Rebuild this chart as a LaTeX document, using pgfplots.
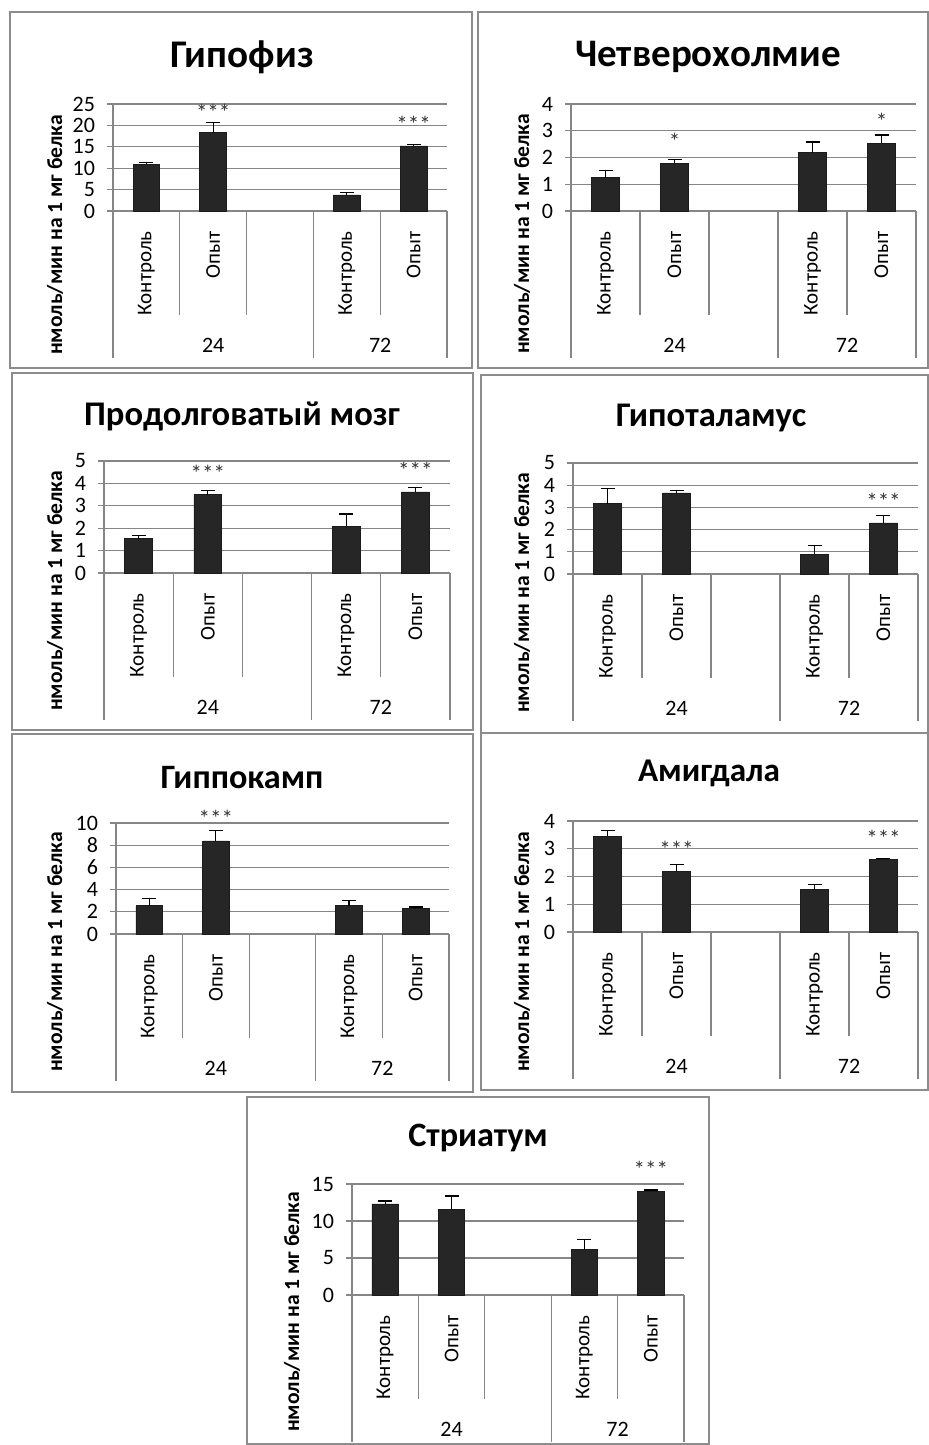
\documentclass[border=0pt]{standalone}
\usepackage{fontspec}
\setmainfont{Carlito}
\usepackage{pgfplots}
\pgfplotsset{compat=1.18}
\definecolor{gc}{RGB}{134,134,134}
\definecolor{fc}{RGB}{140,140,140}
\definecolor{bc}{RGB}{38,38,38}
\pgfplotsset{
  panel/.style={
    scale only axis, anchor=south west, clip=false,
    xmin=0, xmax=5, ymin=0,
    axis lines*=left,
    axis line style={gc, line width=0.6pt},
    ymajorgrids, grid style={gc, line width=0.6pt},
    xtick align=inside, ytick align=outside, major tick length=3pt,
    ytick style={gc, line width=0.6pt},
    xtick={0.5,1.5,3.5,4.5}, xticklabels={Контроль,Опыт,Контроль,Опыт},
    xtick style={draw=none},
    xticklabel shift=10pt,
    x tick label style={rotate=90, anchor=east, inner sep=0pt, font=\fontsize{10.5}{12}\selectfont},
    y tick label style={font=\fontsize{11}{12}\selectfont},
    yticklabel shift=2.5pt,
    /pgf/number format/assume math mode=true,
  },
  bars/.style={ybar, bar width=0.4, fill=bc, draw=bc!70!black, line width=0.4pt,
    error bars/.cd, y dir=plus, y explicit,
    error bar style={black, line width=0.6pt},
    error mark options={rotate=90, black, line width=0.6pt, mark size=3.5pt}},
  stars/.style={draw=none, nodes near coords, point meta=explicit symbolic,
    every node near coord/.append style={anchor=center, inner sep=0pt, yshift=-2.5pt, text=black!80, font=\fontsize{11.5}{10}\selectfont}},
}
\newcommand\seps{%
  \pgfplotsinvokeforeach{1,2,4}{\draw[gc, line width=0.6pt] (axis cs:##1,0) -- ++(0,-52pt);}%
  \pgfplotsinvokeforeach{0,3,5}{\draw[gc, line width=0.6pt] (axis cs:##1,0) -- ++(0,-73.5pt);}%
  \node[font=\fontsize{11}{12}\selectfont] at (axis cs:1.5,0) [yshift=-67pt] {24};%
  \node[font=\fontsize{11}{12}\selectfont] at (axis cs:4,0) [yshift=-67pt] {72};%
}
\newcommand\ylab{нмоль/мин на 1 мг белка}
\begin{document}
\begin{tikzpicture}
\useasboundingbox (0,0) rectangle (464.5pt,-722.5pt);
\tikzset{frame/.style={fc, line width=1.1pt}, ttl/.style={font=\bfseries\fontsize{#1}{20}\selectfont}, yl/.style={rotate=90, font=\bfseries\fontsize{10.8}{12}\selectfont}}
% frames
\draw[frame] (5pt,-6pt) rectangle (236pt,-184pt);
\draw[frame] (239pt,-6pt) rectangle (464pt,-184pt);
\draw[frame] (6pt,-186.5pt) rectangle (236.5pt,-365pt);
\draw[frame] (240.5pt,-187.5pt) rectangle (464pt,-366.5pt);
\draw[frame] (6pt,-367pt) rectangle (236.5pt,-546pt);
\draw[frame] (240.5pt,-366.5pt) rectangle (464pt,-545pt);
\draw[frame] (123.5pt,-548.5pt) rectangle (354.5pt,-722pt);
% titles
\node[ttl=19.6] at (121pt,-28.5pt) {Гипофиз};
\node[ttl=19.5] at (354pt,-28.5pt) {Четверохолмие};
\node[ttl=17.3] at (121pt,-208pt) {Продолговатый мозг};
\node[ttl=17.3] at (355.5pt,-209pt) {Гипоталамус};
\node[ttl=17.1] at (121pt,-389pt) {Гиппокамп};
\node[ttl=16.6] at (354.5pt,-386.5pt) {Амигдала};
\node[ttl=17.1] at (239pt,-569pt) {Стриатум};
% y labels
\node[yl] at (27.5pt,-117.5pt) {\ylab};
\node[yl] at (261pt,-117pt) {\ylab};
\node[yl] at (27.5pt,-295.5pt) {\ylab};
\node[yl] at (261pt,-296.5pt) {\ylab};
\node[yl] at (27.5pt,-476pt) {\ylab};
\node[yl] at (261pt,-476pt) {\ylab};
\node[yl] at (146pt,-656pt) {\ylab};

% Panel 1: Гипофиз
\begin{axis}[panel, at={(56.5pt,-105.5pt)}, width=167pt, height=53.5pt, ymax=25, ytick={0,5,...,25}]
\addplot[bars] table[x=x, y=y, y error=e] {
x y e
0.5 10.9 0.4
1.5 18.3 2.4
3.5 3.75 0.65
4.5 15.2 0.4
};
\addplot[stars] table[meta=m] {
x y m
1.5 24.3 ***
4.5 21.5 ***
};
\seps
\end{axis}

% Panel 2: Четверохолмие
\begin{axis}[panel, at={(285.5pt,-105.5pt)}, width=172.5pt, height=53.5pt, ymax=4, ytick={0,1,...,4}]
\addplot[bars] table[x=x, y=y, y error=e] {
x y e
0.5 1.25 0.27
1.5 1.78 0.15
3.5 2.18 0.40
4.5 2.54 0.30
};
\addplot[stars] table[meta=m] {
x y m
1.5 2.79 *
4.5 3.54 *
};
\seps
\end{axis}

% Panel 3: Продолговатый мозг
\begin{axis}[panel, at={(52pt,-286.5pt)}, width=173pt, height=56pt, ymax=5, ytick={0,1,...,5}]
\addplot[bars] table[x=x, y=y, y error=e] {
x y e
0.5 1.53 0.16
1.5 3.50 0.19
3.5 2.08 0.55
4.5 3.62 0.18
};
\addplot[stars] table[meta=m] {
x y m
1.5 4.67 ***
4.5 4.82 ***
};
\seps
\end{axis}

% Panel 4: Гипоталамус
\begin{axis}[panel, at={(286.5pt,-287pt)}, width=172.5pt, height=55.5pt, ymax=5, ytick={0,1,...,5}]
\addplot[bars] table[x=x, y=y, y error=e] {
x y e
0.5 3.17 0.69
1.5 3.65 0.11
3.5 0.90 0.37
4.5 2.30 0.33
};
\addplot[stars] table[meta=m] {
x y m
4.5 3.52 ***
};
\seps
\end{axis}

% Panel 5: Гиппокамп
\begin{axis}[panel, at={(58pt,-467pt)}, width=166.5pt, height=55.5pt, ymax=10, ytick={0,2,...,10}]
\addplot[bars] table[x=x, y=y, y error=e] {
x y e
0.5 2.54 0.66
1.5 8.38 0.96
3.5 2.54 0.48
4.5 2.28 0.15
};
\addplot[stars] table[meta=m] {
x y m
1.5 10.84 ***
};
\seps
\end{axis}

% Panel 6: Амигдала
\begin{axis}[panel, at={(286.5pt,-466pt)}, width=172.5pt, height=55.5pt, ymax=4, ytick={0,1,...,4}]
\addplot[bars] table[x=x, y=y, y error=e] {
x y e
0.5 3.45 0.21
1.5 2.19 0.23
3.5 1.53 0.17
4.5 2.62 0.03
};
\addplot[stars] table[meta=m] {
x y m
1.5 3.16 ***
4.5 3.54 ***
};
\seps
\end{axis}

% Panel 7: Стриатум
\begin{axis}[panel, at={(176pt,-647.5pt)}, width=166pt, height=55.5pt, ymax=15, ytick={0,5,...,15}]
\addplot[bars] table[x=x, y=y, y error=e] {
x y e
0.5 12.3 0.4
1.5 11.58 1.8
3.5 6.13 1.39
4.5 14.0 0.19
};
\addplot[stars] table[meta=m] {
x y m
4.5 17.7 ***
};
\seps
\end{axis}
\end{tikzpicture}
\end{document}
